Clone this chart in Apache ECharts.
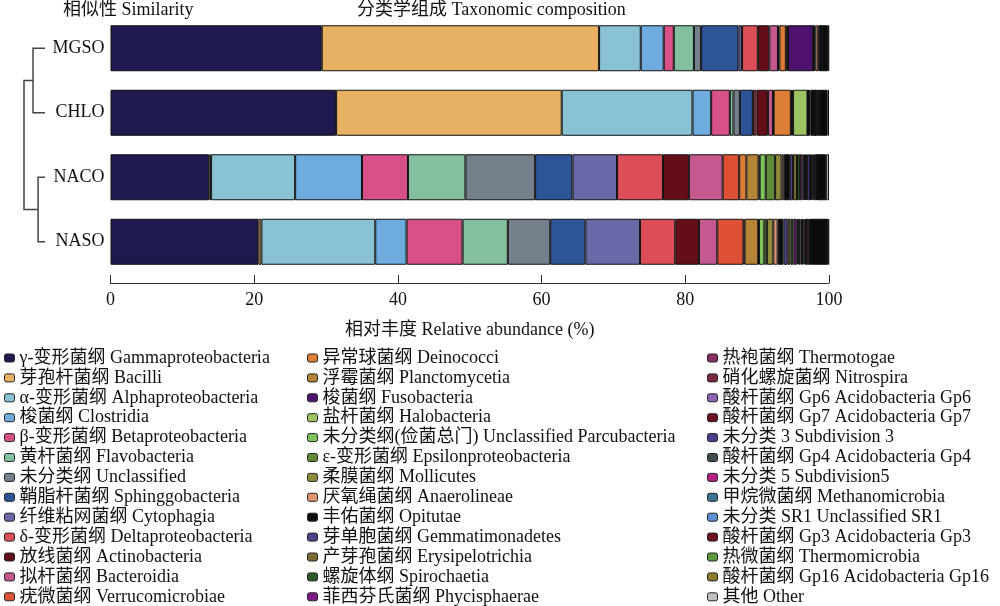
<!DOCTYPE html>
<html><head><meta charset="utf-8">
<script src="https://cdn.jsdelivr.net/npm/echarts@6/dist/echarts.min.js"></script>
<style>html,body{margin:0;padding:0;background:#fff}#c{width:1000px;height:606px}</style>
</head><body><div id="c"></div>
<script>
const samples = ['MGSO', 'CHLO', 'NACO', 'NASO'];
const taxa = [
  'γ-变形菌纲 Gammaproteobacteria', '芽孢杆菌纲 Bacilli', 'α-变形菌纲 Alphaproteobacteria', '梭菌纲 Clostridia',
  'β-变形菌纲 Betaproteobacteria', '黄杆菌纲 Flavobacteria', '未分类纲 Unclassified', '鞘脂杆菌纲 Sphinggobacteria',
  '纤维粘网菌纲 Cytophagia', 'δ-变形菌纲 Deltaproteobacteria', '放线菌纲 Actinobacteria', '拟杆菌纲 Bacteroidia',
  '疣微菌纲 Verrucomicrobiae',
  '异常球菌纲 Deinococci', '浮霉菌纲 Planctomycetia', '梭菌纲 Fusobacteria', '盐杆菌纲 Halobacteria',
  '未分类纲(俭菌总门) Unclassified Parcubacteria', 'ε-变形菌纲 Epsilonproteobacteria', '柔膜菌纲 Mollicutes',
  '厌氧绳菌纲 Anaerolineae', '丰佑菌纲 Opitutae', '芽单胞菌纲 Gemmatimonadetes', '产芽孢菌纲 Erysipelotrichia',
  '螺旋体纲 Spirochaetia', '菲西芬氏菌纲 Phycisphaerae',
  '热袍菌纲 Thermotogae', '硝化螺旋菌纲 Nitrospira', '酸杆菌纲 Gp6 Acidobacteria Gp6', '酸杆菌纲 Gp7 Acidobacteria Gp7',
  '未分类 3 Subdivision 3', '酸杆菌纲 Gp4 Acidobacteria Gp4', '未分类 5 Subdivision5', '甲烷微菌纲 Methanomicrobia',
  '未分类 SR1 Unclassified SR1', '酸杆菌纲 Gp3 Acidobacteria Gp3', '热微菌纲 Thermomicrobia',
  '酸杆菌纲 Gp16 Acidobacteria Gp16', '其他 Other'
];
const taxaColors = [
  '#1e1a4f', '#e8b062', '#88c2d3', '#6eace0', '#d85088', '#83c09d', '#74808c', '#2c5496', '#6a69a8', '#db4e58',
  '#640e18', '#c5598f', '#de5136',
  '#dc7e36', '#b58436', '#4e136e', '#9cc462', '#7fc35b', '#5f8b37', '#908b3a', '#df9670', '#0d0d0d', '#4a4586',
  '#7c6a30', '#2d5b27', '#7f1a86',
  '#8b2e66', '#7b2b3b', '#8e63b6', '#6b1020', '#483e8c', '#3d4c50', '#b62082', '#3b7492', '#5c90d4', '#6f1121',
  '#5f9b3a', '#8d7b2b', '#c0c0c0'
];
// relative abundance (%) per sample, in legend order
const MGSO = [29.4, 38.6, 5.8, 3.2, 1.4, 2.8, 1.0, 5.2, 0.5, 2.2, 1.6, 1.2, 0.2,
  0.9, 0.3, 3.5, 0.05, 0, 0.1, 0.15, 0.4, 0.3, 0.05, 0.05, 0, 0.05,
  0, 0, 0, 0.05, 0, 0, 0, 0, 0, 0, 0, 0, 0.1];
const CHLO = [31.4, 31.4, 18.2, 2.6, 2.6, 0.5, 0.9, 1.8, 0.1, 0.4, 1.6, 0.7, 0.1,
  2.4, 0.2, 0.1, 2.0, 0.05, 0.1, 0.05, 0.2, 0.6, 0.05, 0.05, 0, 0.05,
  0, 0, 0, 0.05, 0, 0.05, 0, 0.25, 0.05, 0, 0, 0, 0.2];
const NACO = [13.75, 0.25, 11.7, 9.3, 6.4, 8.0, 9.7, 5.2, 6.2, 6.4, 3.6, 4.7, 2.3,
  1.0, 1.7, 0, 0.15, 0.85, 1.3, 0.9, 0.3, 0.85, 0.45, 0.55, 0.4, 0.35,
  0.2, 0.2, 0.1, 0.15, 0.4, 0.15, 0.25, 0.15, 0.3, 0.1, 0.05, 0.05, 0.4];
const NASO = [20.6, 0.4, 15.85, 4.35, 7.8, 6.3, 5.9, 4.9, 7.6, 4.9, 3.3, 2.55, 3.65,
  0.15, 1.9, 0, 0.1, 0.75, 0.35, 0.9, 0.6, 0.8, 0.6, 0.4, 0.4, 0.45,
  0.15, 0.15, 0.25, 0.2, 0.2, 0.15, 0.15, 0.1, 0.05, 0.35, 0.1, 0.05, 0.1];
// many minor taxa not listed in the legend (drawn as the dark block before "Other")
const unlistedName = '未列出类群 Unlisted taxa';
const unlisted = [0.9, 1.25, 1.2, 2.5];
// dendrogram merge heights (relative)
const dendroHeights = { upper: 0.57, lower: 0.33, root: 1.0 };

const FONT = "'Liberation Serif', 'Noto Sans CJK SC', serif";
const table = [MGSO, CHLO, NACO, NASO];

function mkSeries(name, color, data) {
  return {
    name, type: 'bar', stack: 'total', barWidth: 46,
    data: data.map(v => v === 0 ? '-' : v),
    itemStyle: { color, borderColor: '#111', borderWidth: 1 },
    emphasis: { disabled: true }, animation: false
  };
}
const series = [];
for (let i = 0; i < taxa.length - 1; i++) series.push(mkSeries(taxa[i], taxaColors[i], table.map(r => r[i])));
series.push(mkSeries(unlistedName, '#0b0b0b', unlisted));
series.push(mkSeries(taxa[taxa.length - 1], taxaColors[taxa.length - 1], table.map(r => r[taxa.length - 1])));

function legendCol(names, left) {
  return {
    orient: 'vertical', left, top: 349, padding: 0, itemGap: 1.9,
    itemWidth: 10, itemHeight: 8, icon: 'roundRect', data: names,
    itemStyle: { borderColor: '#222', borderWidth: 1 },
    textStyle: { fontFamily: FONT, fontSize: 18, color: '#111', lineHeight: 18 },
    selectedMode: false
  };
}

const chart = echarts.init(document.getElementById('c'), null, { renderer: 'canvas' });
chart.setOption({
  animation: false,
  title: [
    { text: '相似性 Similarity', left: 63, top: 1, padding: 0, textStyle: { fontFamily: FONT, fontSize: 18, fontWeight: 'normal', color: '#111' } },
    { text: '分类学组成 Taxonomic composition', left: 357, top: 1, padding: 0, textStyle: { fontFamily: FONT, fontSize: 18, fontWeight: 'normal', color: '#111' } }
  ],
  legend: [
    legendCol(taxa.slice(0, 13), 4),
    legendCol(taxa.slice(13, 26), 307),
    legendCol(taxa.slice(26, 39), 707)
  ],
  grid: { left: 110.5, right: 171, top: 16, height: 258 },
  xAxis: {
    type: 'value', min: 0, max: 100, interval: 20, offset: 9,
    name: '相对丰度 Relative abundance (%)', nameLocation: 'middle', nameGap: 38,
    nameTextStyle: { fontFamily: FONT, fontSize: 18, color: '#111' },
    axisLine: { show: true, lineStyle: { color: '#333', width: 1 } },
    axisTick: { show: true, inside: true, length: 8, lineStyle: { color: '#333' } },
    axisLabel: { fontFamily: FONT, fontSize: 18, color: '#111', margin: 8 },
    splitLine: { show: false }
  },
  yAxis: {
    type: 'category', data: samples, inverse: true,
    axisLine: { show: false }, axisTick: { show: false },
    axisLabel: { fontFamily: FONT, fontSize: 18, color: '#111', margin: 6 }
  },
  series
});

// dendrogram from category positions
const ys = samples.map(s => chart.convertToPixel({ yAxisIndex: 0 }, s));
const leafX = 45, unit = 21;
const c1x = leafX - dendroHeights.upper * unit, c2x = leafX - dendroHeights.lower * unit, rx = leafX - dendroHeights.root * unit;
const c1y = (ys[0] + ys[1]) / 2, c2y = (ys[2] + ys[3]) / 2;
const ls = { stroke: '#444', lineWidth: 1.5, fill: null };
chart.setOption({
  graphic: [
    { type: 'polyline', shape: { points: [[leafX, ys[0]], [c1x, ys[0]], [c1x, ys[1]], [leafX, ys[1]]] }, style: ls },
    { type: 'polyline', shape: { points: [[leafX, ys[2]], [c2x, ys[2]], [c2x, ys[3]], [leafX, ys[3]]] }, style: ls },
    { type: 'polyline', shape: { points: [[c1x, c1y], [rx, c1y], [rx, c2y], [c2x, c2y]] }, style: ls }
  ]
});
</script></body></html>
